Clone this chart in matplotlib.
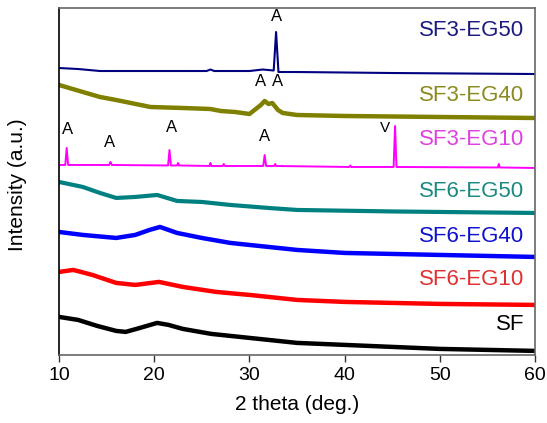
import numpy as np
import matplotlib
matplotlib.use("Agg")
import matplotlib.pyplot as plt

plt.rcParams['font.family'] = ['Liberation Sans', 'DejaVu Sans']

# 2 theta positions and intensities (a.u., stacked offsets)
sf_x = [10, 12, 14, 16, 17, 18.5, 20.3, 21.5, 23, 26, 30, 35, 40, 45, 50, 55, 60]
sf_y = [38, 35, 29, 24, 23, 27, 32, 30, 26, 21, 17, 12, 10, 8, 6, 5, 4]

eg10_x = [10, 11.5, 13.5, 16, 18, 20.5, 23, 26.5, 30, 35, 40, 50, 60]
eg10_y = [83, 85, 80, 72, 70, 73, 68, 63, 60, 55, 53, 51, 50]

eg40_x = [10, 12.5, 16, 18, 19.5, 20.6, 22.4, 25, 28, 32, 35, 40, 50, 60]
eg40_y = [123, 120, 117, 120, 125, 128, 122, 117, 112, 108, 105, 102, 100, 98]

eg50_x = [10, 12.5, 14.3, 16, 18, 20.3, 22.4, 25, 28, 32, 35, 45, 60]
eg50_y = [173, 168, 162, 157, 158, 160, 154, 153, 150, 147, 145, 143.5, 142]

sf3_10_x = [10, 10.65, 10.8, 10.95, 15.25, 15.4, 15.55, 21.45, 21.6, 21.75,
            22.4, 22.5, 22.6, 25.8, 25.9, 26.0, 27.2, 27.3, 27.4,
            31.45, 31.6, 31.75, 32.6, 32.7, 32.8, 40.5, 40.6, 40.7,
            45.15, 45.3, 45.45, 56.1, 56.2, 56.3, 60]
sf3_10_y = [190, 190, 207, 190, 190, 193, 190, 189.5, 205, 189.5,
            189.5, 192, 189.5, 189, 192, 189, 189, 191, 189,
            189, 200, 189, 189, 191, 189, 188, 189.5, 188,
            188, 229, 188, 187.5, 191, 187.5, 187]

sf3_40_x = [10, 12.5, 14.3, 16, 19.6, 23, 25.9, 27, 28.5, 30, 31.2, 31.6,
            32, 32.4, 33, 33.5, 35, 40, 50, 60]
sf3_40_y = [270, 263, 258, 255, 248, 247, 246, 244, 243, 241, 250, 254,
            251, 252, 245, 242, 240, 239, 238, 237]

sf3_50_x = [10, 12, 14.3, 20, 25.5, 25.9, 26.3, 30, 31.4, 32.55, 32.8,
            33.05, 35, 45, 60]
sf3_50_y = [287, 286, 284, 284, 284, 285.5, 284, 284, 285.5, 284.5, 323,
            283, 283, 282, 281]

series = [
    ("SF", sf_x, sf_y, "black", "black", 3.2, 30),
    ("SF6-EG10", eg10_x, eg10_y, "#ff0000", "#e03030", 3.2, 75),
    ("SF6-EG40", eg40_x, eg40_y, "#0000ff", "#1010d0", 3.2, 118),
    ("SF6-EG50", eg50_x, eg50_y, "#008080", "#1a8a80", 3.0, 163),
    ("SF3-EG10", sf3_10_x, sf3_10_y, "#ff00ff", "#e040e0", 1.4, 215),
    ("SF3-EG40", sf3_40_x, sf3_40_y, "#808000", "#8a8a20", 3.2, 260),
    ("SF3-EG50", sf3_50_x, sf3_50_y, "#000080", "#1a1a80", 1.5, 325),
]

# phase markers: (2 theta, label height, text)
marks_x = [32.8, 31.2, 33.0, 10.9, 15.3, 21.8, 31.6, 44.2]
marks_y = [331, 266, 266, 218, 205, 220, 211, 220]
marks_t = ["A", "A", "A", "A", "A", "A", "A", "V"]

fig = plt.figure(figsize=(5.47, 4.23), dpi=100)
ax = fig.add_axes([0.108, 0.161, 0.870, 0.820])

for name, x, y, col, tcol, lw, ty in series:
    ax.plot(x, y, color=col, lw=lw)
    ax.text(58.9, ty, name, color=tcol, fontsize=16, ha="right", va="center")

for mx, my, mt in zip(marks_x, marks_y, marks_t):
    ax.text(mx, my, mt, fontsize=12 if mt == "A" else 11, ha="center",
            va="bottom", color="black")

ax.set_xlim(10, 60)
ax.set_ylim(0, 347)
ax.set_xticks([10, 20, 30, 40, 50, 60])
ax.set_yticks([])
ax.tick_params(axis="x", direction="out", length=5, width=1, colors="#333333",
               labelsize=14, labelcolor="black")
ax.set_xlabel("2 theta (deg.)", fontsize=15, labelpad=8)
ax.set_ylabel("Intensity (a.u.)", fontsize=15)
ax.yaxis.set_label_coords(-0.067, 0.49)

for s in ["top", "right", "bottom"]:
    ax.spines[s].set_color("#666666")
    ax.spines[s].set_linewidth(1.2)
ax.spines["left"].set_color("black")
ax.spines["left"].set_linewidth(1.2)

fig.savefig("out.png", dpi=100)
